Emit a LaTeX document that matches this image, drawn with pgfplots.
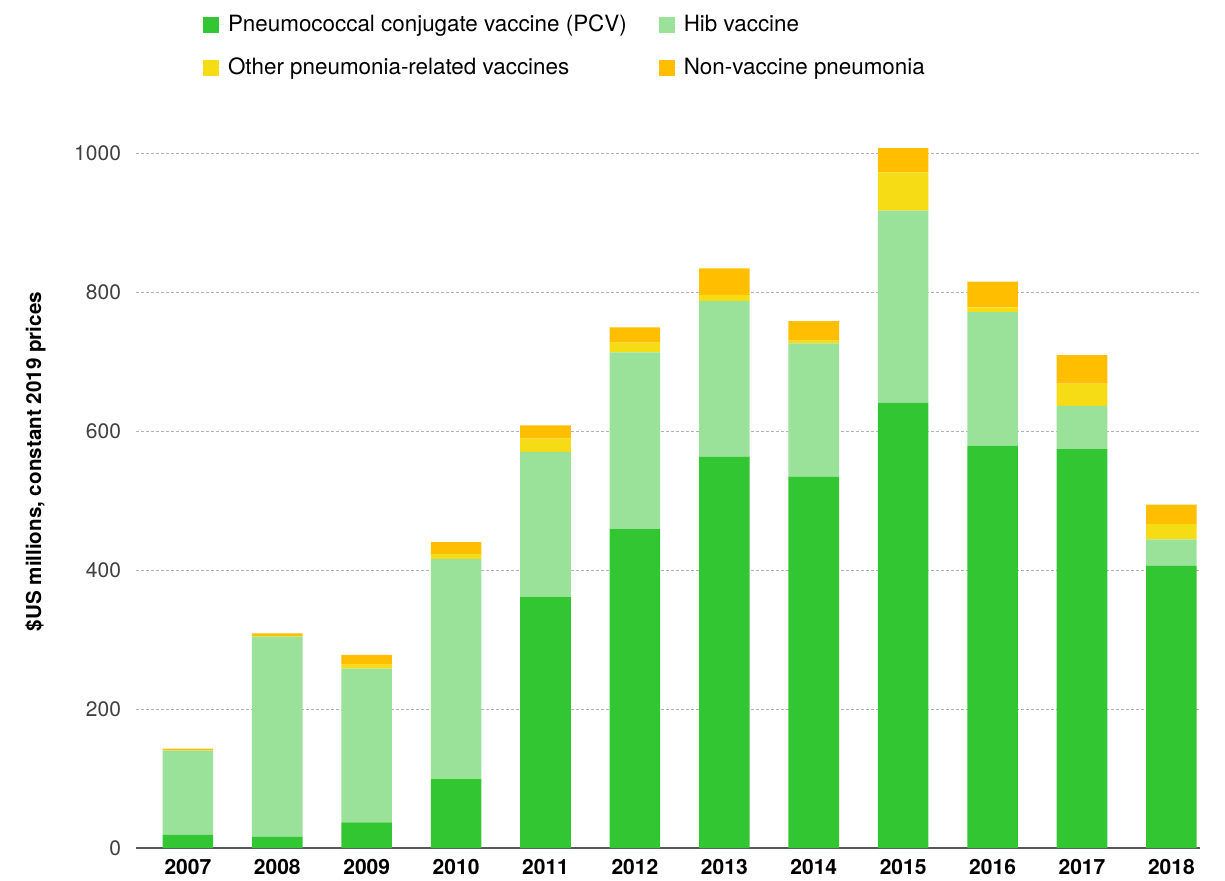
\documentclass[border=0pt]{standalone}
\usepackage{pgfplots}
\pgfplotsset{compat=1.18}
\usepackage{fontspec}
\setmainfont{TeX Gyre Heros}
\definecolor{pcv}{RGB}{50,198,50}
\definecolor{hib}{RGB}{154,226,154}
\definecolor{oth}{RGB}{245,220,20}
\definecolor{nvp}{RGB}{255,190,0}
\pgfplotstableread{
x pcv hib oth nvp
0 19 121 1 2
1 16 288 1 4
2 37 221 6 14
3 99 317 7 17
4 361 209 19 19
5 459 254 14 22
6 563 224 9 38
7 534 192 4 28
8 641 276 55 35
9 579 192 7 37
10 574 62 32 41
11 406 38 22 28
}\data
\begin{document}
\begin{tikzpicture}
\begin{axis}[
  at={(68pt,16pt)}, anchor=south west,
  scale only axis, width=532pt, height=347.5pt,
  xmin=-0.58, xmax=11.32, ymin=0, ymax=1000,
  clip=false,
  ybar stacked, bar width=25.3pt,
  xtick={0,...,11},
  xticklabels={2007,2008,2009,2010,2011,2012,2013,2014,2015,2016,2017,2018},
  ytick={0,200,400,600,800,1000},
  yticklabel style={/pgf/number format/1000 sep={}},
  ymajorgrids,
  grid style={dash pattern=on 1.5pt off 1pt, black!30, line width=0.5pt},
  axis x line*=bottom, axis y line*=left,
  y axis line style={draw=none},
  x axis line style={black!65, line width=0.8pt, -},
  major tick length=0pt,
  /pgf/number format/assume math mode=true,
  yticklabel style={font=\fontsize{10.5}{12}\selectfont, text=black!75, xshift=-4pt},
  xticklabel style={font=\bfseries\fontsize{10.5}{12}\selectfont, text=black, yshift=-2pt},
  ylabel={\$US millions, constant 2019 prices},
  ylabel style={font=\bfseries\fontsize{10.3}{12}\selectfont,
    at={(axis description cs:-0.0945,0.556)}, anchor=center},
  legend columns=2,
  legend cell align=left,
  legend style={at={(0.057,1.211)}, anchor=north west, draw=none,
    font=\fontsize{11.2}{13}\selectfont,
    /tikz/every even column/.append style={column sep=14pt},
    row sep=7.75pt},
]
\addplot[fill=pcv, draw=none, legend image code/.code={\fill[pcv] (0pt,-4pt) rectangle (8pt,4pt); \path (0pt,0pt) -- (10.5pt,0pt);}] table[x=x,y=pcv]{\data};
\addplot[fill=hib, draw=none, legend image code/.code={\fill[hib] (0pt,-4pt) rectangle (8pt,4pt); \path (0pt,0pt) -- (10.5pt,0pt);}] table[x=x,y=hib]{\data};
\addplot[fill=oth, draw=none, legend image code/.code={\fill[oth] (0pt,-4pt) rectangle (8pt,4pt); \path (0pt,0pt) -- (10.5pt,0pt);}] table[x=x,y=oth]{\data};
\addplot[fill=nvp, draw=none, legend image code/.code={\fill[nvp] (0pt,-4pt) rectangle (8pt,4pt); \path (0pt,0pt) -- (10.5pt,0pt);}] table[x=x,y=nvp]{\data};
\legend{Pneumococcal conjugate vaccine (PCV), Hib vaccine, Other pneumonia-related vaccines, Non-vaccine pneumonia}
\end{axis}
\pgfresetboundingbox
\path[use as bounding box] (0,0) rectangle (612.5pt,440pt);
\end{tikzpicture}
\end{document}
